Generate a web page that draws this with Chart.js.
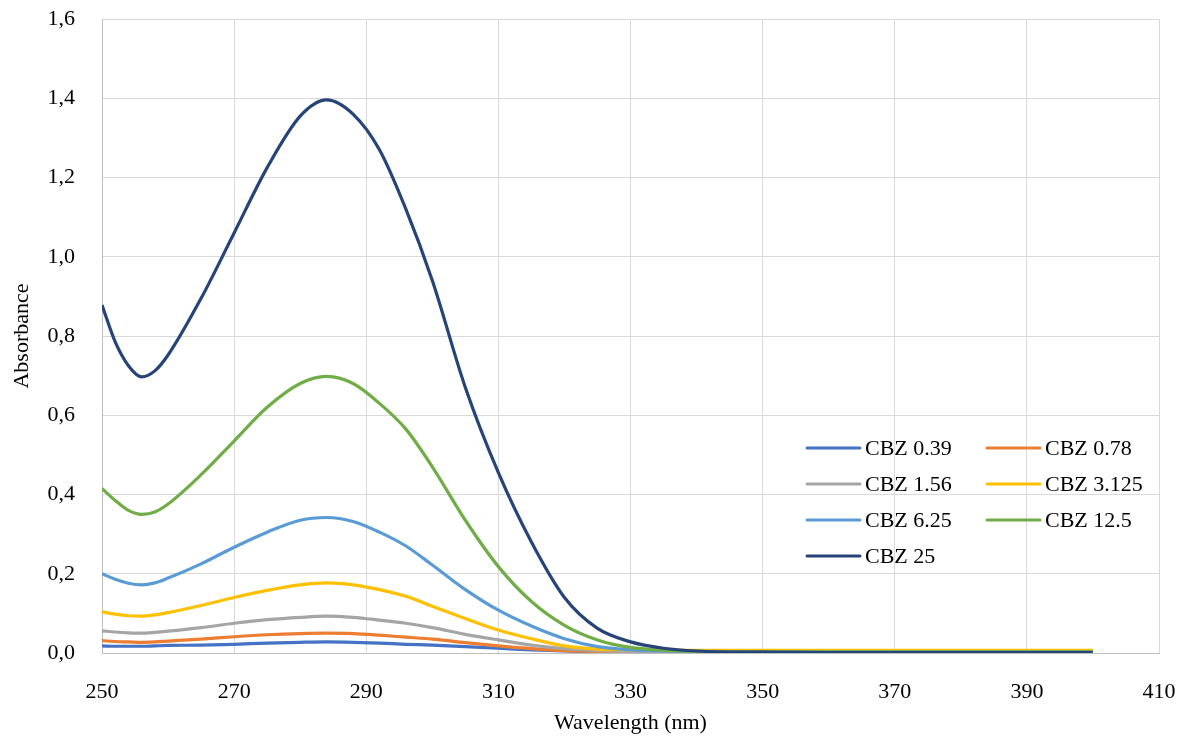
<!doctype html>
<html lang="en">
    <head>
        <meta charset="UTF-8" />
        <title>CBZ absorbance spectra</title>
        <script src="https://cdn.jsdelivr.net/npm/chart.js"></script>
        <style>
            body { margin: 0; background: #fff; }
            #wrap { width: 1186px; height: 740px; }
        </style>
    </head>

    <body>
        <div id="wrap"><canvas id="spectra"></canvas></div>
        <script>
            // wavelengths (nm) the curves were read at
            const wavelengths = [250, 252, 254, 256, 258, 260, 265, 270, 275, 280, 284, 288, 292, 296, 300, 305, 310, 315, 320, 325, 330, 335, 340, 350, 360, 370, 380, 390, 400]

            const seriesNames = ['CBZ 0.39', 'CBZ 0.78', 'CBZ 1.56', 'CBZ 3.125', 'CBZ 6.25', 'CBZ 12.5', 'CBZ 25']

            const cbz039 = [0.018, 0.017, 0.017, 0.017, 0.018, 0.019, 0.02, 0.022, 0.025, 0.027, 0.028, 0.027, 0.025, 0.022, 0.02, 0.016, 0.012, 0.008, 0.005, 0.003, 0.002, 0.002, 0.002, 0.002, 0.002, 0.002, 0.002, 0.002, 0.002]
            const cbz078 = [0.031, 0.029, 0.028, 0.027, 0.028, 0.03, 0.035, 0.041, 0.046, 0.049, 0.05, 0.049, 0.045, 0.04, 0.035, 0.026, 0.018, 0.011, 0.006, 0.004, 0.003, 0.003, 0.003, 0.003, 0.003, 0.003, 0.003, 0.003, 0.003]
            const cbz156 = [0.056, 0.053, 0.051, 0.05, 0.052, 0.055, 0.064, 0.075, 0.084, 0.09, 0.093, 0.09, 0.083, 0.075, 0.064, 0.047, 0.033, 0.02, 0.011, 0.006, 0.004, 0.004, 0.004, 0.004, 0.004, 0.004, 0.004, 0.004, 0.004]
            const cbz3125 = [0.104, 0.098, 0.094, 0.093, 0.096, 0.102, 0.12, 0.14, 0.158, 0.172, 0.177, 0.172, 0.16, 0.143, 0.118, 0.087, 0.058, 0.036, 0.018, 0.01, 0.008, 0.007, 0.007, 0.007, 0.007, 0.007, 0.007, 0.007, 0.007]
            const cbz625 = [0.2, 0.186, 0.176, 0.172, 0.177, 0.189, 0.225, 0.267, 0.305, 0.335, 0.342, 0.332, 0.305, 0.27, 0.222, 0.16, 0.108, 0.068, 0.036, 0.016, 0.008, 0.005, 0.004, 0.003, 0.003, 0.003, 0.003, 0.003, 0.003]
            const cbz125 = [0.415, 0.385, 0.36, 0.35, 0.356, 0.376, 0.45, 0.535, 0.62, 0.68, 0.698, 0.68, 0.63, 0.565, 0.47, 0.335, 0.218, 0.13, 0.07, 0.033, 0.014, 0.007, 0.004, 0.003, 0.003, 0.003, 0.003, 0.003, 0.003]
            const cbz25 = [0.878, 0.785, 0.725, 0.697, 0.712, 0.752, 0.895, 1.06, 1.225, 1.355, 1.396, 1.36, 1.27, 1.12, 0.94, 0.67, 0.455, 0.28, 0.14, 0.062, 0.028, 0.012, 0.005, 0.002, 0.001, 0.001, 0.001, 0.001, 0.001]

            const xTicks = [250, 270, 290, 310, 330, 350, 370, 390, 410]
            const yTicks = [0, 0.2, 0.4, 0.6, 0.8, 1.0, 1.2, 1.4, 1.6]

            const allSeries = [cbz039, cbz078, cbz156, cbz3125, cbz625, cbz125, cbz25]
            const colors = ['#4472C4', '#ED7D31', '#A5A5A5', '#FFC000', '#5B9BD5', '#70AD47', '#264478']

            const serif = "'Liberation Serif', 'DejaVu Serif', serif"

            // legend drawn inside the plot, two columns like the original
            const insideLegend = {
                id: 'insideLegend',
                afterDraw(chart) {
                    const ctx = chart.ctx
                    const area = chart.chartArea
                    const colX = [area.left + 705, area.left + 885]
                    const rowY = [448, 484, 520, 556]
                    ctx.save()
                    ctx.font = '22px ' + serif
                    ctx.textBaseline = 'middle'
                    ctx.textAlign = 'left'
                    chart.data.datasets.forEach((ds, i) => {
                        const x = colX[i % 2]
                        const y = rowY[Math.floor(i / 2)]
                        ctx.strokeStyle = ds.borderColor
                        ctx.lineWidth = 3
                        ctx.lineCap = 'round'
                        ctx.beginPath()
                        ctx.moveTo(x, y)
                        ctx.lineTo(x + 53, y)
                        ctx.stroke()
                        ctx.fillStyle = '#000'
                        ctx.fillText(ds.label, x + 58, y + 1)
                    })
                    ctx.restore()
                },
            }

            const ctx = document.getElementById('spectra').getContext('2d')
            const chart = new Chart(ctx, {
                type: 'line',
                data: {
                    datasets: seriesNames.map((name, i) => ({
                        label: name,
                        data: wavelengths.map((w, j) => ({ x: w, y: allSeries[i][j] })),
                        borderColor: colors[i],
                        backgroundColor: colors[i],
                        borderWidth: 3.2,
                        pointRadius: 0,
                        cubicInterpolationMode: 'monotone',
                        fill: false,
                        order: seriesNames.length - i, // last series on top
                    })),
                },
                options: {
                    responsive: true,
                    maintainAspectRatio: false,
                    animation: false,
                    layout: { padding: { top: 19, right: 27, left: 0, bottom: 0 } },
                    plugins: {
                        legend: { display: false },
                        tooltip: { enabled: false },
                    },
                    scales: {
                        x: {
                            type: 'linear',
                            min: 250,
                            max: 410,
                            afterBuildTicks: (scale) => {
                                scale.ticks = xTicks.map((v) => ({ value: v }))
                            },
                            afterFit: (scale) => {
                                scale.height = 87
                                scale.paddingLeft = 0
                                scale.paddingRight = 0
                            },
                            grid: { color: '#d9d9d9', lineWidth: 1, drawTicks: false },
                            border: { color: '#bfbfbf', width: 1 },
                            ticks: {
                                padding: 26,
                                color: '#000',
                                font: { family: serif, size: 22 },
                                callback: (v) => String(v),
                            },
                            title: {
                                display: true,
                                text: 'Wavelength (nm)',
                                color: '#000',
                                font: { family: serif, size: 22 },
                                padding: { top: 0, bottom: 4 },
                            },
                        },
                        y: {
                            min: 0,
                            max: 1.6,
                            afterBuildTicks: (scale) => {
                                scale.ticks = yTicks.map((v) => ({ value: v }))
                            },
                            afterFit: (scale) => {
                                scale.width = 102
                                scale.paddingTop = 0
                                scale.paddingBottom = 0
                            },
                            grid: { color: '#d9d9d9', lineWidth: 1, drawTicks: false },
                            border: { color: '#bfbfbf', width: 1 },
                            ticks: {
                                padding: 27,
                                color: '#000',
                                font: { family: serif, size: 22 },
                                callback: (v) => v.toFixed(1).replace('.', ','),
                            },
                            title: {
                                display: true,
                                text: 'Absorbance',
                                color: '#000',
                                font: { family: serif, size: 22 },
                                padding: { top: 9, bottom: 0 },
                            },
                        },
                    },
                },
                plugins: [insideLegend],
            })
        </script>
    </body>
</html>
